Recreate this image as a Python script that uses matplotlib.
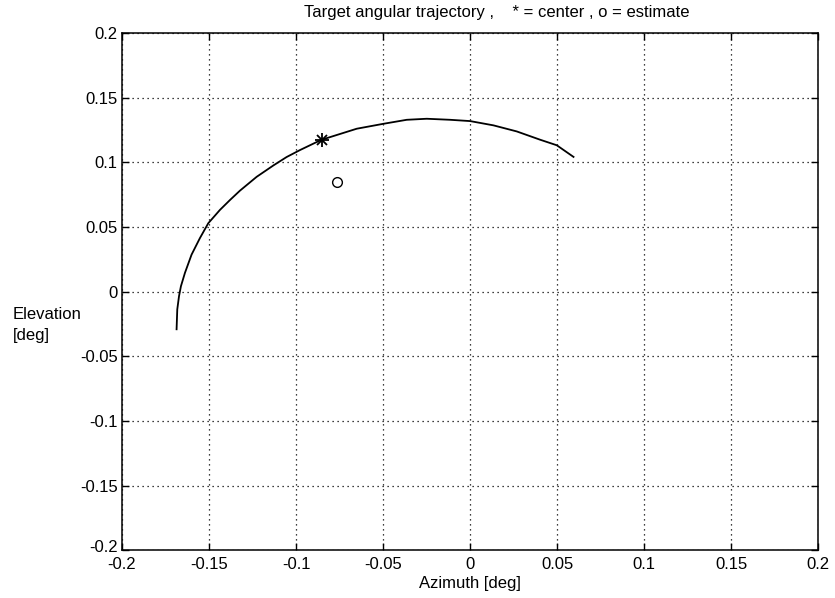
import matplotlib

matplotlib.use("Agg", force=True)
import matplotlib.pyplot as plt
from matplotlib.transforms import ScaledTranslation

# trajectory (azimuth, elevation in deg)
azimuth = [-0.1686, -0.1682, -0.1672, -0.1661, -0.1638, -0.1600, -0.1552, -0.1504,
           -0.1437, -0.1379, -0.1322, -0.1226, -0.1130, -0.1054, -0.0977, -0.0881,
           -0.0852, -0.0651, -0.0498, -0.0364, -0.0249, -0.0115, 0.0000, 0.0134,
           0.0268, 0.0402, 0.0498, 0.0594]
elevation = [-0.0292, -0.0138, -0.0036, 0.0041, 0.0144, 0.0285, 0.0413, 0.0528,
             0.0631, 0.0708, 0.0780, 0.0887, 0.0975, 0.1040, 0.1094, 0.1156,
             0.1174, 0.1259, 0.1297, 0.1328, 0.1336, 0.1328, 0.1318, 0.1285,
             0.1238, 0.1174, 0.1131, 0.1041]
center = (-0.0852, 0.1174)
estimate = (-0.0762, 0.0847)
ticks = [-0.2, -0.15, -0.1, -0.05, 0, 0.05, 0.1, 0.15, 0.2]
tick_labels = ["-0.2", "-0.15", "-0.1", "-0.05", "0", "0.05", "0.1", "0.15", "0.2"]

plt.rcParams["font.family"] = ["Liberation Sans", "DejaVu Sans"]
plt.rcParams["font.size"] = 12

fig = plt.figure(figsize=(8.35, 5.98), dpi=100)
ax = fig.add_axes([0.146, 0.080, 0.834, 0.865])

ax.plot(azimuth, elevation, color="black", lw=1.3)
ax.plot(center[0], center[1], marker="+", ms=10, mew=1.3, color="black")
ax.plot(center[0], center[1], marker="x", ms=7, mew=1.3, color="black")
ax.plot(estimate[0], estimate[1], marker="o", ms=7, mfc="none", mec="black", mew=1.0)

ax.set_xlim(-0.2, 0.2)
ax.set_ylim(-0.2, 0.2)
ax.set_xticks(ticks)
ax.set_xticklabels(tick_labels)
ax.set_yticks(ticks)
ax.set_yticklabels(tick_labels)
ax.tick_params(direction="in", top=True, right=True, length=5, width=1)
ax.tick_params(axis="x", pad=5)
ax.tick_params(axis="y", pad=3)
ax.grid(True, color="black", linestyle=(0, (1, 3)), lw=0.9)
for spine in ax.spines.values():
    spine.set_linewidth(1.1)

# lift the bottom y label a little so it clears the x label below it
bottom_label = ax.get_yticklabels()[0]
bottom_label.set_transform(bottom_label.get_transform()
                           + ScaledTranslation(0, 4 / 100, fig.dpi_scale_trans))

ax.set_xlabel("Azimuth [deg]", labelpad=3)
fig.text(13 / 835, 1 - 325 / 598, "Elevation\n[deg]", ha="left", va="center",
         linespacing=1.45)
fig.text(497 / 835, 1 - 12 / 598,
         "Target angular trajectory ,    * = center , o = estimate",
         ha="center", va="center")

fig.savefig("out.png", dpi=100)
